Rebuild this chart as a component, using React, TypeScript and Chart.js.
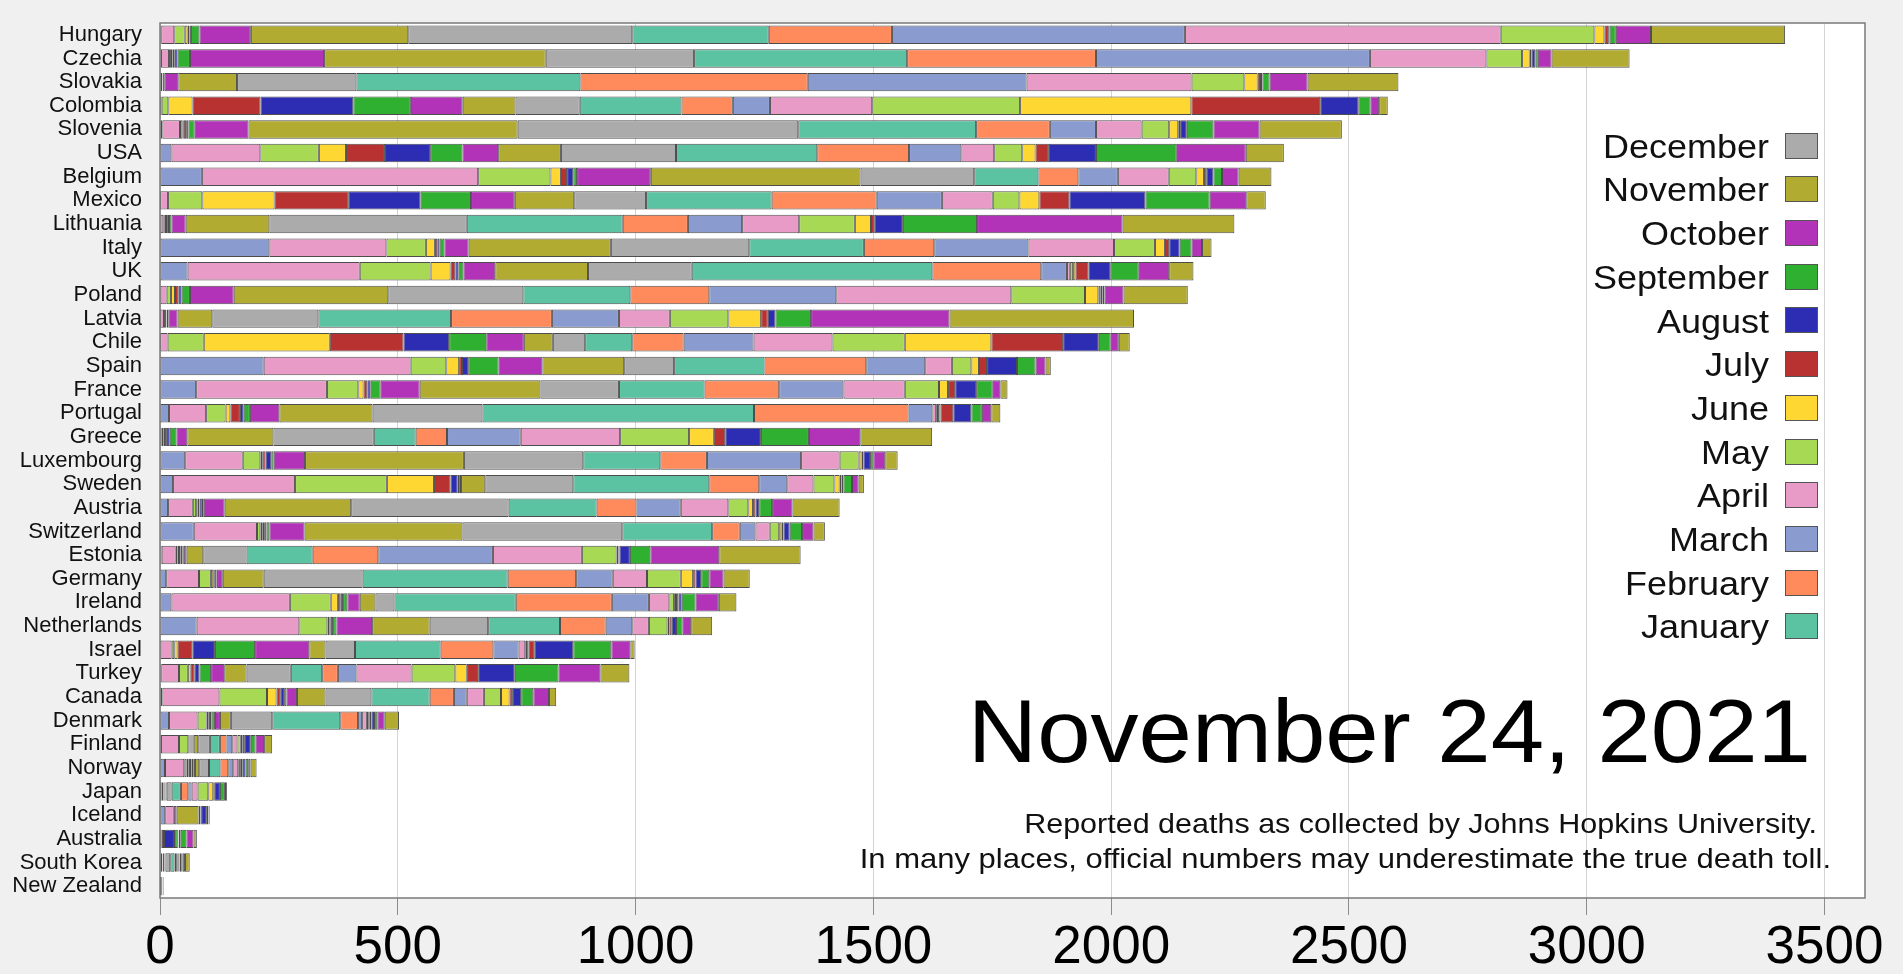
import React, { useEffect, useRef } from "react";
import { Chart, registerables } from "chart.js";

Chart.register(...registerables);

// ---------- data ----------
const COUNTRIES = [
  "Hungary", "Czechia", "Slovakia", "Colombia", "Slovenia", "USA", "Belgium", "Mexico",
  "Lithuania", "Italy", "UK", "Poland", "Latvia", "Chile", "Spain", "France", "Portugal",
  "Greece", "Luxembourg", "Sweden", "Austria", "Switzerland", "Estonia", "Germany",
  "Ireland", "Netherlands", "Israel", "Turkey", "Canada", "Denmark", "Finland", "Norway",
  "Japan", "Iceland", "Australia", "South Korea", "New Zealand",
];

const PERIODS = [
  "Jan 2020", "Feb 2020", "Mar 2020", "Apr 2020", "May 2020", "Jun 2020", "Jul 2020",
  "Aug 2020", "Sep 2020", "Oct 2020", "Nov 2020", "Dec 2020", "Jan 2021", "Feb 2021",
  "Mar 2021", "Apr 2021", "May 2021", "Jun 2021", "Jul 2021", "Aug 2021", "Sep 2021",
  "Oct 2021", "Nov 2021",
];

const MONTH_NAMES = [
  "January", "February", "March", "April", "May", "June",
  "July", "August", "September", "October", "November", "December",
];

const MONTH_COLORS = [
  "#5cc3a2", "#ff8a5c", "#8a9bd0", "#e89bc7", "#a8d955", "#ffd733",
  "#b83232", "#2d2db3", "#30b030", "#b232b8", "#b2ab32", "#ababab",
];

const X_TICKS = [0, 500, 1000, 1500, 2000, 2500, 3000, 3500];
const X_MAX = 3585;

// monthly deaths per million, Jan 2020 ... Nov 2021
const HUNGARY = [0, 0, 2.6, 27.4, 22, 6, 4, 3, 18, 108, 331, 471, 287, 259, 616, 664, 197, 21, 8, 3, 13, 74, 282];
const CZECHIA = [0, 0, 2, 17, 4, 3, 4, 7, 26, 282, 466, 312, 448, 397, 576, 245, 75, 16, 4, 8, 5, 29, 164];
const SLOVAKIA = [0, 0, 1, 4, 0.5, 0.2, 0.3, 0.5, 2.5, 29.5, 123.5, 251, 471, 478, 460, 347, 111, 28, 7, 3, 15, 80, 191];
const COLOMBIA = [0, 0, 0.5, 3, 14, 51, 143, 195, 121, 109, 111, 135, 214, 108, 78, 215, 311, 360, 271, 80, 26, 18, 18];
const SLOVENIA = [0, 0, 5, 37, 5, 3, 5, 5, 13, 113, 566, 590, 374, 155, 97, 96, 58, 19, 4, 14, 56, 97, 173];
const USA = [0, 0, 24, 187, 123, 57, 82, 95, 68, 75, 132, 242, 297, 193, 110, 69, 59, 28, 28, 99, 170, 145, 80];
const BELGIUM = [0, 0, 88, 581, 152, 22, 13, 13, 8, 155, 441, 239, 135, 84, 83, 107, 58, 16, 6, 14, 18, 35, 69];
const MEXICO = [0, 0, 0.3, 16.7, 72, 152, 156, 151, 106, 92, 125, 151, 264, 221, 137, 107, 56, 42, 63, 160, 135, 77, 41];
const LITHUANIA = [0, 0, 1, 6, 3, 2.6, 2.4, 4, 5, 30, 176, 415, 328, 137, 114, 120, 117, 34, 8, 59, 156, 306, 235];
const ITALY = [0, 0, 230, 246, 83, 19, 5, 5, 10, 51, 299, 291, 241, 148, 198, 180, 86, 21, 9, 22, 25, 22, 20];
const UK = [0, 0, 58, 362, 149, 42, 10, 7, 10, 67, 195, 218, 506, 229, 54, 6, 7, 5, 27, 46, 60, 64, 51];
const POLAND = [0, 0, 1, 13, 9, 8.5, 7, 7, 17.5, 92, 325, 284, 225, 166, 267, 368, 155, 28, 5, 4, 4, 40, 135];
const LATVIA = [0, 0, 0.5, 8, 4, 1, 0.5, 0.5, 3, 19.5, 73, 223, 279, 212, 141, 107, 123, 69, 14, 16, 75, 291, 388];
const CHILE = [0, 0, 0.5, 15.5, 76, 265, 155, 96, 78, 79, 61, 68, 99, 108, 147, 166, 152, 182, 151, 75, 25, 17, 23];
const SPAIN = [0, 0, 218, 309, 75, 27, 6, 13, 64, 92, 172, 105, 190, 214, 124, 56, 41, 16, 17, 63, 39, 21, 11];
const FRANCE = [0, 0, 76, 275, 66, 11, 8, 7, 21, 82, 254, 165, 180, 157, 135, 129, 72, 19, 15, 44, 35, 16, 15];
const PORTUGAL = [0, 0, 19, 78, 41, 10, 20, 8, 13, 62, 196, 231, 571, 325, 50, 8, 4, 5, 27, 38, 22, 20, 19];
const GREECE = [0, 0, 3.5, 3.5, 3.5, 2, 2, 6, 14, 23, 181, 211, 88, 66, 155, 209, 145, 52, 24, 75, 101, 108, 151];
const LUXEMBOURG = [0, 0, 53, 121, 37, 4, 7, 12, 5, 66, 334, 251, 162, 98, 198, 81, 40, 6, 4, 14, 7, 25, 26];
const SWEDEN = [0, 0, 27.5, 256.5, 193, 99, 35, 15, 3, 4, 51, 185, 286, 105, 59, 55, 44, 11, 4, 4, 18, 14, 11];
const AUSTRIA = [0, 0, 17, 52, 7, 3, 4, 5, 4, 44, 266, 331, 185, 84, 93, 100, 42, 10, 5, 8, 27, 43, 99];
const SWITZERLAND = [0, 0, 71, 133, 7, 4, 4, 5, 6, 74, 332, 336, 189, 58, 33, 30, 20, 5, 4, 13, 26, 24, 24];
const ESTONIA = [0, 0, 3.5, 29.5, 4, 3, 2.7, 4.3, 3, 6, 35, 91, 139, 138, 241, 187, 73, 4, 2, 22, 43, 145, 171];
const GERMANY = [0, 0, 13, 69, 25, 5, 2, 5, 1, 12, 86, 208, 305, 144, 77, 72, 71, 26, 5, 12, 17, 30, 55];
const IRELAND = [0, 0, 24, 249, 86, 15, 6, 5, 9, 26, 33, 40, 255, 202, 78, 43, 10, 4, 5, 7, 29, 49, 37];
const NETHERLANDS = [0, 0, 77, 216, 59, 4, 3, 5, 7, 75, 121, 123, 151, 96, 56, 35, 39, 4, 5, 9, 14, 18, 44];
const ISRAEL = [0, 0, 1, 23.5, 5.5, 7, 31, 47.5, 84.5, 114, 34, 62, 180, 111, 53, 14, 4, 3, 13, 81, 80, 40, 9];
const TURKEY = [0, 0, 2.6, 37.4, 18.5, 6, 8.5, 10, 24.5, 27.5, 47, 93, 66, 33, 39, 116, 92, 24, 24, 77, 92, 88, 61];
const CANADA = [0, 0, 5, 120, 100, 20, 9, 7, 5, 22, 60, 96.5, 122.5, 51, 27, 36, 36, 18, 7, 17.5, 25.5, 33, 15];
const DENMARK = [0, 0, 19, 60, 19, 3.5, 3.5, 3.5, 7, 10.5, 23, 87, 143, 37.5, 8.5, 10, 4, 2, 3.5, 5.5, 7, 15.5, 30];
const FINLAND = [0, 0, 2, 38, 19.5, 2.5, 2, 2.5, 2, 2.4, 9.5, 24.5, 21, 14, 12, 11, 7, 4, 4.5, 12.5, 10, 18, 17];
const NORWAY = [0, 0, 10.5, 40.5, 5, 3.5, 3.5, 3.5, 3.5, 3.5, 9, 20.5, 24, 16.5, 10.5, 10.5, 3.5, 2, 3, 7, 5.5, 5, 12.6];
const JAPAN = [0, 0, 0.4, 2.6, 3.3, 0.6, 0.3, 2.2, 1.7, 1.1, 1.8, 10.5, 19.5, 15.5, 7, 12.5, 22.5, 10.5, 2, 12, 10.5, 2.5, 2];
const ICELAND = [0, 0, 11, 18, 0, 0, 0, 0, 0, 6, 46, 4, 1, 0.5, 0, 0, 0, 0, 0, 12, 3, 1, 2];
const AUSTRALIA = [0, 0, 1, 2.5, 0.3, 0.1, 4.5, 21, 8, 1, 0.1, 0.1, 0.2, 0.1, 0, 0, 0, 0.1, 0.5, 4, 12, 15, 7];
const SOUTH_KOREA = [0, 0, 2, 2.5, 0.4, 0.3, 0.4, 0.8, 2.5, 1.1, 1.5, 10, 9, 3.5, 2.5, 1.7, 1.5, 0.7, 0.8, 3.5, 2.8, 5, 10];
const NEW_ZEALAND = [0, 0, 0.2, 3.5, 0.8, 0, 0, 0.4, 0.4, 0, 0, 0, 0, 0.2, 0, 0, 0, 0, 0, 0.2, 0.4, 1, 1];

const SERIES = [
  HUNGARY, CZECHIA, SLOVAKIA, COLOMBIA, SLOVENIA, USA, BELGIUM, MEXICO, LITHUANIA, ITALY,
  UK, POLAND, LATVIA, CHILE, SPAIN, FRANCE, PORTUGAL, GREECE, LUXEMBOURG, SWEDEN, AUSTRIA,
  SWITZERLAND, ESTONIA, GERMANY, IRELAND, NETHERLANDS, ISRAEL, TURKEY, CANADA, DENMARK,
  FINLAND, NORWAY, JAPAN, ICELAND, AUSTRALIA, SOUTH_KOREA, NEW_ZEALAND,
];

const DATE_LABEL = "November 24, 2021";
const NOTE_LINES = [
  "Reported deaths as collected by Johns Hopkins University.",
  "In many places, official numbers may underestimate the true death toll.",
];

const FONT = '"Liberation Sans", Arial, Helvetica, sans-serif';
const W = 1903;
const H = 974;

const framePlugin = {
  id: "frame",
  beforeDraw(chart: any) {
    const { ctx, chartArea } = chart;
    ctx.save();
    ctx.fillStyle = "#ffffff";
    ctx.fillRect(chartArea.left, chartArea.top, chartArea.right - chartArea.left, chartArea.bottom - chartArea.top);
    ctx.restore();
  },
  afterDraw(chart: any) {
    const { ctx, chartArea } = chart;
    ctx.save();
    ctx.strokeStyle = "#7a7a7a";
    ctx.lineWidth = 1.5;
    ctx.strokeRect(chartArea.left, chartArea.top, chartArea.right - chartArea.left, chartArea.bottom - chartArea.top);
    ctx.restore();
  },
};

export default function App() {
  const canvasRef = useRef<HTMLCanvasElement | null>(null);

  useEffect(() => {
    if (!canvasRef.current) return;
    const datasets = PERIODS.map((p, m) => ({
      label: p,
      data: SERIES.map((s) => s[m]),
      backgroundColor: MONTH_COLORS[m % 12],
      borderColor: "#4d4d4d",
      borderWidth: 1,
      borderSkipped: false as any,
      barPercentage: 0.78,
      categoryPercentage: 1,
    }));
    const chart = new Chart(canvasRef.current, {
      type: "bar",
      data: { labels: COUNTRIES, datasets },
      plugins: [framePlugin],
      options: {
        indexAxis: "y",
        animation: false,
        responsive: false,
        maintainAspectRatio: false,
        devicePixelRatio: 1,
        layout: { padding: { top: 23, right: 38, left: 0, bottom: 0 } },
        plugins: { legend: { display: false }, tooltip: { enabled: false } },
        scales: {
          x: {
            type: "linear",
            stacked: true,
            min: 0,
            max: X_MAX,
            afterBuildTicks: (axis: any) => {
              axis.ticks = X_TICKS.map((v) => ({ value: v }));
            },
            afterFit: (axis: any) => {
              axis.height = 76;
            },
            ticks: {
              autoSkip: false,
              color: "#000",
              padding: 2,
              font: { family: FONT, size: 53 },
              maxRotation: 0,
              minRotation: 0,
              callback: (v: any) => String(v),
            },
            grid: {
              color: "#d4d4d4",
              tickColor: "#8c8c8c",
              tickLength: 17,
              lineWidth: 1,
            },
            border: { display: false },
          },
          y: {
            type: "category",
            stacked: true,
            afterFit: (axis: any) => {
              axis.width = 160;
            },
            ticks: {
              color: "#111",
              padding: 0,
              autoSkip: false,
              font: { family: FONT, size: 22 },
            },
            grid: {
              display: true,
              drawOnChartArea: false,
              drawTicks: true,
              tickLength: 18,
              tickColor: "rgba(0,0,0,0)",
              color: "rgba(0,0,0,0)",
            },
            border: { display: false },
          },
        },
      } as any,
    });
    return () => chart.destroy();
  }, []);

  const legendMonths = [...MONTH_NAMES].reverse();
  const sy = 0.92;

  return (
    <div style={{ position: "fixed", left: 0, top: 0, width: W, height: H, background: "#f0f0f0", overflow: "hidden", fontFamily: FONT }}>
      <canvas ref={canvasRef} width={W} height={H} style={{ position: "absolute", left: 0, top: 0, width: W, height: H }} />
      {legendMonths.map((name, i) => {
        const yc = 145.6 + 43.7 * i;
        const colorIdx = MONTH_NAMES.indexOf(name);
        return (
          <React.Fragment key={name}>
            <div
              style={{
                position: "absolute", right: W - 1769, top: yc - 15.9, fontSize: 36, lineHeight: "36px",
                whiteSpace: "nowrap", color: "#111", transform: `scaleY(${sy})`, transformOrigin: "top",
              }}
            >
              {name}
            </div>
            <div
              style={{
                position: "absolute", left: 1785, top: yc - 13, width: 33, height: 26,
                background: MONTH_COLORS[colorIdx], border: "1px solid #555", boxSizing: "border-box",
              }}
            />
          </React.Fragment>
        );
      })}
      <div
        style={{
          position: "absolute", right: W - 1811, top: 687, fontSize: 96, lineHeight: "96px",
          whiteSpace: "nowrap", color: "#000", transform: `scaleY(${sy})`, transformOrigin: "top",
        }}
      >
        {DATE_LABEL}
      </div>
      <div
        style={{
          position: "absolute", right: W - 1817, top: 809, fontSize: 30.5, lineHeight: "30.5px",
          whiteSpace: "nowrap", color: "#111", transform: `scaleY(${sy})`, transformOrigin: "top",
        }}
      >
        {NOTE_LINES[0]}
      </div>
      <div
        style={{
          position: "absolute", right: W - 1831, top: 844, fontSize: 31, lineHeight: "31px",
          whiteSpace: "nowrap", color: "#111", transform: `scaleY(${sy})`, transformOrigin: "top",
        }}
      >
        {NOTE_LINES[1]}
      </div>
    </div>
  );
}
